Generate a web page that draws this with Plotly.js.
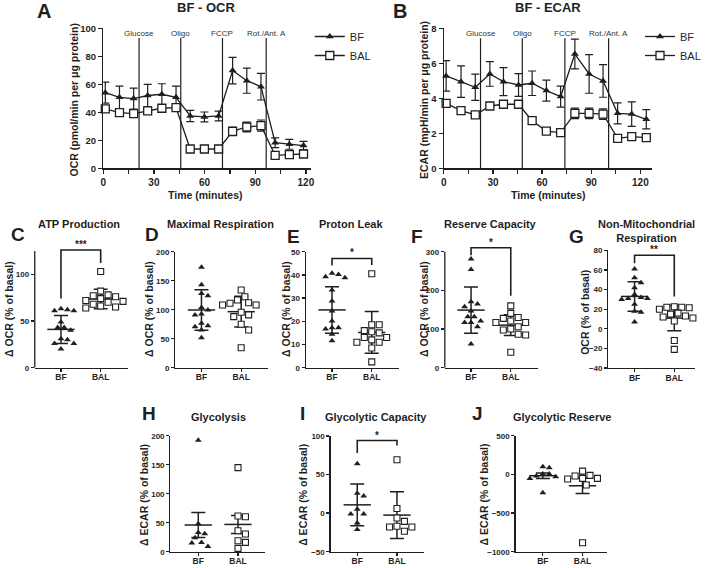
<!DOCTYPE html>
<html><head><meta charset="utf-8">
<script src="https://cdn.plot.ly/plotly-3.0.1.min.js"></script>
<style>html,body{margin:0;padding:0;background:#fff}#chart{width:706px;height:568px}</style>
</head><body><div id="chart"></div>
<script>
// ================= DATA =================
const seriesNames = ['BF', 'BAL'];
const injLabels = ['Glucose', 'Oligo', 'FCCP', 'Rot./Ant. A'];
const injTimeA = [21.2, 45.9, 70.6, 96.5];
const injTimeB = [22.4, 47.9, 73.9, 100.6];
const timeTicks = [0, 30, 60, 90, 120];

// A: BF - OCR
const timeA = [1.2, 9.6, 18.0, 26.3, 34.7, 43.1, 51.5, 59.9, 68.3, 76.6, 85.0, 93.4, 101.8, 110.2, 118.6];
const ocrBF = [54, 50.7, 49.8, 52, 52.9, 50.7, 37.4, 36.7, 37.4, 69.8, 62.6, 58.3, 18.3, 17.1, 16.2];
const ocrBFsd = [7.5, 8, 7.5, 8, 7.5, 8, 4, 3.5, 3.5, 9.5, 9, 9.5, 3.5, 3.5, 3];
const ocrBAL = [42.4, 39.8, 39, 41, 42.9, 43.3, 13.8, 13.8, 13.8, 26.4, 29.5, 30.5, 9.3, 9.8, 10.2];
const ocrBALsd = [1.5, 1, 1, 1.2, 1.5, 2, 0.8, 0.8, 0.8, 3, 3.5, 4, 0.8, 0.8, 0.8];

// B: BF - ECAR
const timeB = [1.4, 10.5, 19.2, 28.1, 36.4, 45.6, 53.9, 62.6, 71.3, 80.0, 88.7, 97.2, 106.1, 114.7, 123.6];
const ecarBF = [5.28, 4.95, 4.63, 5.39, 4.95, 4.76, 4.86, 4.44, 4.1, 6.53, 5.39, 4.99, 3.14, 3.1, 2.8];
const ecarBFsd = [0.87, 0.9, 0.75, 0.7, 0.8, 0.65, 0.7, 0.6, 0.6, 0.85, 1.1, 0.93, 0.6, 0.7, 0.55];
const ecarBAL = [3.71, 3.3, 3.05, 3.56, 3.66, 3.66, 2.72, 2.13, 2.04, 3.14, 3.14, 3.1, 1.71, 1.81, 1.75];
const ecarBALsd = [0.08, 0.08, 0.08, 0.08, 0.08, 0.08, 0.08, 0.08, 0.08, 0.3, 0.3, 0.3, 0.08, 0.08, 0.08];

// C: ATP Production
const atpBF = [63, 61, 61, 62, 49, 43, 43, 40, 31, 30, 26, 26, 20];
const atpBAL = [103, 82, 78, 77, 76, 74, 72, 71, 70, 68, 66, 65, 64];
const atpMean = [41, 73.5], atpErr = [15, 10.5];
const atpSig = [74, 126, 112], atpStars = '***';
// D: Maximal Respiration
const maxBF = [173, 143, 128, 124, 104, 99.5, 92.6, 91, 76.5, 72.4, 70.7, 65, 51.7];
const maxBAL = [134, 122.4, 116.7, 112, 111, 108, 108, 95.5, 91, 88, 74.8, 65, 34.5];
const maxMean = [99.5, 96.6], maxErr = [35, 26.5];
// E: Proton Leak
const leakBF = [40.7, 40.2, 39.2, 38.8, 33.5, 28.7, 24.4, 20.1, 17.2, 17.2, 16.7, 14.4, 11.6];
const leakBAL = [40.5, 18.5, 18.5, 16, 15.5, 15, 13, 13, 12, 11, 11, 8.5, 2.5];
const leakMean = [24.9, 15.2], leakErr = [10, 9];
const leakSig = [44, 47.1, 44.3], leakStars = '*';
// F: Reserve Capacity
const resBF = [281, 254, 170.5, 164.6, 157.6, 146.5, 131.8, 131.8, 121, 117, 117, 106, 61];
const resBAL = [160, 140.5, 130, 127.6, 120.6, 117, 117, 106, 100, 97.4, 86.3, 84.5, 39.8];
const resMean = [149, 110], resErr = [60, 27];
const resSig = [291, 310, 186], resStars = '*';
// G: Non-Mitochondrial Respiration
const nonBF = [61, 52, 47, 42, 35, 32, 31, 31, 30, 25, 18, 17, 7];
const nonBAL = [22.5, 22, 22, 21.5, 20, 16, 15, 13, 12, 11, 8, -12, -21];
const nonMean = [33, 10.9], nonErr = [15, 12.9];
const nonSig = [67, 75, 33], nonStars = '**';
// H: Glycolysis
const glyBF = [192, 48, 33, 31, 24, 16, 15, 9];
const glyBAL = [145, 61.5, 60.3, 36.2, 30.5, 19, 16, 5.7];
const glyMean = [46, 47], glyErr = [21.5, 15.5];
// I: Glycolytic Capacity
const capBF = [64, 25.6, 22.2, 5.1, -1.3, -1.3, -12.8, -21.4];
const capBAL = [69.2, 6, -6.4, -10.7, -17, -18, -18, -23.5];
const capMean = [10.7, -2.6], capErr = [27, 30.3];
const capSig = [78, 94, 87.6], capStars = '*';
// J: Glycolytic Reserve
const rsvBF = [99, 86, 4, 4, -21, -30, -52, -237];
const rsvBAL = [43, -13, -21, -52, -52, -60, -138, -884];
const rsvMean = [-17, -147], rsvErr = [36, 100];

// ================= LAYOUT HELPERS =================
const W = 706, H = 568;
const FONT = '"Liberation Sans", Arial, Helvetica, sans-serif';
const INK = '#1f1f1f';
const traces = [], shapes = [], annotations = [];
const layout = {
  width: W, height: H, margin: {l: 0, r: 0, t: 0, b: 0},
  paper_bgcolor: '#fff', plot_bgcolor: 'rgba(0,0,0,0)',
  font: {family: FONT, color: INK}, showlegend: true
};
const xdom = (a, b) => [a / W, b / W];
const ydom = (top, bot) => [1 - bot / H, 1 - top / H];
function txt(text, px, py, size, extra) {
  annotations.push(Object.assign({
    xref: 'paper', yref: 'paper', x: px / W, y: 1 - py / H, text: text, showarrow: false,
    xanchor: 'center', yanchor: 'middle',
    font: {family: FONT, size: size, color: INK, weight: 'bold'}
  }, extra || {}));
}
function ids(n) { const s = n === 1 ? '' : String(n); return {xa: 'xaxis' + s, ya: 'yaxis' + s, x: 'x' + s, y: 'y' + s}; }

// ---------- time course panels ----------
function timePanel(n, o) {
  const a = ids(n);
  const axBase = {showgrid: false, zeroline: false, showline: true, linecolor: INK, linewidth: 1.3,
    ticks: 'outside', ticklen: 4, tickwidth: 1.3, tickcolor: INK, fixedrange: true,
    tickfont: {family: FONT, size: 10, color: INK, weight: 'bold'}};
  layout[a.xa] = Object.assign({}, axBase, {domain: xdom(o.x0, o.x1), anchor: a.y, range: o.xr,
    tickmode: 'array', tickvals: timeTicks,
    minor: {tickmode: 'linear', tick0: 0, dtick: 15, ticks: 'outside', ticklen: 4, tickwidth: 1.3, tickcolor: INK, showgrid: false}});
  layout[a.ya] = Object.assign({}, axBase, {domain: ydom(o.top, o.bot), anchor: a.x, range: o.yr, dtick: o.dy, tick0: 0,
    tickfont: {family: FONT, size: 9.5, color: INK, weight: 'bold'}});
  const eb = (arr) => ({type: 'data', array: arr, visible: true, color: INK, thickness: 1.2, width: 4});
  traces.push({x: o.time, y: o.bf, error_y: eb(o.bfsd), xaxis: a.x, yaxis: a.y, type: 'scatter', mode: 'lines+markers',
    name: seriesNames[0], legend: o.legend, line: {color: INK, width: 1.3},
    marker: {symbol: 'triangle-up', size: 7, color: INK}, cliponaxis: false});
  traces.push({x: o.time, y: o.bal, error_y: eb(o.balsd), xaxis: a.x, yaxis: a.y, type: 'scatter', mode: 'lines+markers',
    name: seriesNames[1], legend: o.legend, line: {color: INK, width: 1.3},
    marker: {symbol: 'square', size: 8, color: '#fff', line: {color: INK, width: 1.3}}, cliponaxis: false});
  o.inj.forEach((t, i) => {
    shapes.push({type: 'line', xref: a.x, yref: a.y, x0: t, x1: t, y0: o.yr[0], y1: o.injTop, line: {color: INK, width: 1.2}});
    annotations.push({xref: a.x, yref: a.y, x: t, y: o.labelY, text: injLabels[i], showarrow: false,
      xanchor: 'center', yanchor: 'middle', font: {family: FONT, size: 8, color: '#333333'}});
  });
}

timePanel(1, {x0: 104, x1: 313, top: 28.3, bot: 168.3, xr: [0, 122.9], yr: [0, 100], dy: 20,
  time: timeA, bf: ocrBF, bfsd: ocrBFsd, bal: ocrBAL, balsd: ocrBALsd,
  inj: injTimeA, injTop: 93, labelY: 96.5, legend: 'legend'});
timePanel(2, {x0: 447, x1: 657, top: 28.3, bot: 168.3, xr: [0, 127.3], yr: [0, 8], dy: 2,
  time: timeB, bf: ecarBF, bfsd: ecarBFsd, bal: ecarBAL, balsd: ecarBALsd,
  inj: injTimeB, injTop: 7.43, labelY: 7.72, legend: 'legend2'});

const legBase = {xanchor: 'left', yanchor: 'top', bgcolor: 'rgba(0,0,0,0)', borderwidth: 0,
  font: {family: FONT, size: 11, color: INK}, tracegroupgap: 0, itemwidth: 30};
layout.legend = Object.assign({}, legBase, {x: 312 / W, y: 1 - 22 / H});
layout.legend2 = Object.assign({}, legBase, {x: 645 / W, y: 1 - 22 / H});

// ---------- dot-plot panels ----------
function swarm(vals, ppu, pxPerUnit, d) {
  const order = vals.map((v, i) => i).sort((a, b) => vals[b] - vals[a]);
  const placed = [], off = new Array(vals.length).fill(0), s = d / 2;
  order.forEach(i => {
    const y = vals[i] * ppu;
    for (let k = 0; k < 60; k++) {
      const c = k === 0 ? 0 : (k % 2 ? 1 : -1) * Math.ceil(k / 2) * s;
      if (placed.every(p => (p[0] - c) ** 2 + (p[1] - y) ** 2 >= d * d * 0.85)) {
        placed.push([c, y]); off[i] = c / pxPerUnit; break;
      }
    }
  });
  return off;
}
const PXU = 40;
function dotPanel(n, o) {
  const a = ids(n);
  const top = o.bot - (o.yr[1] - o.yr[0]) * o.ppu;
  const right = o.left + (o.xr[1] - o.xr[0]) * PXU;
  const tf = {family: FONT, color: INK, weight: 'bold'};
  layout[a.xa] = {domain: xdom(o.left, right), anchor: a.y, range: o.xr, tickmode: 'array', tickvals: [0, 1],
    ticktext: seriesNames, showgrid: false, zeroline: false, showline: true, linecolor: INK, linewidth: 1.3,
    ticks: 'outside', ticklen: 3, tickwidth: 1.3, tickcolor: INK, fixedrange: true, ticklabelstandoff: -2,
    tickfont: Object.assign({size: 8.5}, tf)};
  layout[a.ya] = {domain: ydom(top, o.bot), anchor: a.x, range: o.yr, tickmode: 'array', tickvals: o.yticks,
    showgrid: false, zeroline: false, showline: !o.axisTop, linecolor: INK, linewidth: 1.3,
    ticks: 'outside', ticklen: 3, tickwidth: 1.3, tickcolor: INK, fixedrange: true, tickfont: Object.assign({size: 8}, tf)};
  if (o.axisTop) shapes.push({type: 'line', xref: a.x + ' domain', yref: a.y, x0: 0, x1: 0, y0: o.yr[0], y1: o.axisTop,
    line: {color: INK, width: 1.3}});
  traces.push({x: [0, 1], y: o.mean, xaxis: a.x, yaxis: a.y, type: 'scatter', mode: 'markers', showlegend: false,
    marker: {symbol: 'line-ew', size: 19.5, color: INK, line: {color: INK, width: 1.5}},
    error_y: {type: 'data', array: o.err, visible: true, color: INK, thickness: 1.5, width: 7}, cliponaxis: false});
  const ob = swarm(o.bf, o.ppu, PXU, 6.5), oa = swarm(o.bal, o.ppu, PXU, 7.5);
  traces.push({x: ob.map(v => v), y: o.bf, xaxis: a.x, yaxis: a.y, type: 'scatter', mode: 'markers', showlegend: false,
    marker: {symbol: 'triangle-up', size: 6, color: INK}, cliponaxis: false});
  traces.push({x: oa.map(v => 1 + v), y: o.bal, xaxis: a.x, yaxis: a.y, type: 'scatter', mode: 'markers', showlegend: false,
    marker: {symbol: 'square', size: 6, color: '#fff', line: {color: INK, width: 1.1}}, cliponaxis: false});
  if (o.sig) {
    shapes.push({type: 'path', xref: a.x, yref: a.y,
      path: `M0,${o.sig[0]} L0,${o.sig[1]} L1,${o.sig[1]} L1,${o.sig[2]}`, line: {color: INK, width: 1.6}});
    annotations.push({xref: a.x, yref: a.y, x: 0.5, y: o.sig[1], text: o.stars, showarrow: false,
      xanchor: 'center', yanchor: 'bottom', yshift: -2, font: {family: FONT, size: 10, color: INK, weight: 'bold'}});
  }
}

dotPanel(3, {left: 35, xr: [-0.66, 1.68], bot: 367.7, ppu: 0.934, yr: [0, 127.5], yticks: [0, 50, 100], axisTop: 125,
  bf: atpBF, bal: atpBAL, mean: atpMean, err: atpErr, sig: atpSig, stars: atpStars});
dotPanel(4, {left: 176.5, xr: [-0.66, 1.68], bot: 367.7, ppu: 0.58, yr: [0, 200], yticks: [0, 50, 100, 150, 200],
  bf: maxBF, bal: maxBAL, mean: maxMean, err: maxErr});
dotPanel(5, {left: 308, xr: [-0.66, 1.68], bot: 367.7, ppu: 2.32, yr: [0, 50], yticks: [0, 10, 20, 30, 40, 50],
  bf: leakBF, bal: leakBAL, mean: leakMean, err: leakErr, sig: leakSig, stars: leakStars});
dotPanel(6, {left: 448, xr: [-0.66, 1.68], bot: 367.7, ppu: 0.3867, yr: [0, 313], yticks: [0, 100, 200, 300], axisTop: 300,
  bf: resBF, bal: resBAL, mean: resMean, err: resErr, sig: resSig, stars: resStars});
dotPanel(7, {left: 612.7, xr: [-0.66, 1.52], bot: 368, ppu: 0.98, yr: [-40, 80], yticks: [-40, -20, 0, 20, 40, 60, 80],
  bf: nonBF, bal: nonBAL, mean: nonMean, err: nonErr, sig: nonSig, stars: nonStars});
dotPanel(8, {left: 171.7, xr: [-0.7, 1.68], bot: 551.7, ppu: 0.58, yr: [0, 200], yticks: [0, 50, 100, 150, 200],
  bf: glyBF, bal: glyBAL, mean: glyMean, err: glyErr});
dotPanel(9, {left: 333, xr: [-0.67, 1.67], bot: 551.7, ppu: 0.772, yr: [-50, 100], yticks: [-50, 0, 50, 100],
  bf: capBF, bal: capBAL, mean: capMean, err: capErr, sig: capSig, stars: capStars});
dotPanel(10, {left: 519.3, xr: [-0.685, 1.62], bot: 551.7, ppu: 0.0773, yr: [-1000, 500], yticks: [-1000, -500, 0, 500],
  bf: rsvBF, bal: rsvBAL, mean: rsvMean, err: rsvErr});

// ---------- texts ----------
const rot = {textangle: -90};
txt('A', 44, 11, 20); txt('B', 403, 11, 20);
txt('BF - OCR', 207, 8, 13); txt('BF - ECAR', 552, 8, 13);
txt('Time (minutes)', 206, 195, 10.5); txt('Time (minutes)', 552, 195, 10.5);
txt('OCR (pmol/min per \u03bcg protein)', 75, 100, 10.5, rot);
txt('ECAR (mpH/min per \u03bcg protein)', 427, 100, 10.5, rot);

txt('C', 18, 234, 19); txt('D', 153, 234, 19); txt('E', 296, 236, 19); txt('F', 420, 236, 19); txt('G', 581, 236, 19);
txt('ATP Production', 80, 224, 11); txt('Maximal Respiration', 222, 224, 11); txt('Proton Leak', 354, 224, 11);
txt('Reserve Capacity', 494, 224, 11); txt('Non-Mitochondrial<br>Respiration', 651, 231, 11);
txt('\u0394 OCR (% of basal)', 9, 309, 10.5, rot); txt('\u0394 OCR (% of basal)', 150, 309, 10.5, rot);
txt('\u0394 OCR (% of basal)', 288, 309, 10.5, rot); txt('\u0394 OCR (% of basal)', 427, 309, 10.5, rot);
txt('OCR (% of basal)', 589, 312, 10.5, rot);

txt('H', 150, 413, 19); txt('I', 305, 413, 19); txt('J', 481, 413, 19);
txt('Glycolysis', 220, 417, 11); txt('Glycolytic Capacity', 379, 417, 11); txt('Glycolytic Reserve', 566, 417, 11);
txt('\u0394 ECAR (% of basal)', 145, 495, 10.5, rot); txt('\u0394 ECAR (% of basal)', 305, 495, 10.5, rot);
txt('\u0394 ECAR (% of basal)', 487, 495, 10.5, rot);

layout.shapes = shapes; layout.annotations = annotations;
Plotly.newPlot('chart', traces, layout, {staticPlot: true, displayModeBar: false});
</script></body></html>
